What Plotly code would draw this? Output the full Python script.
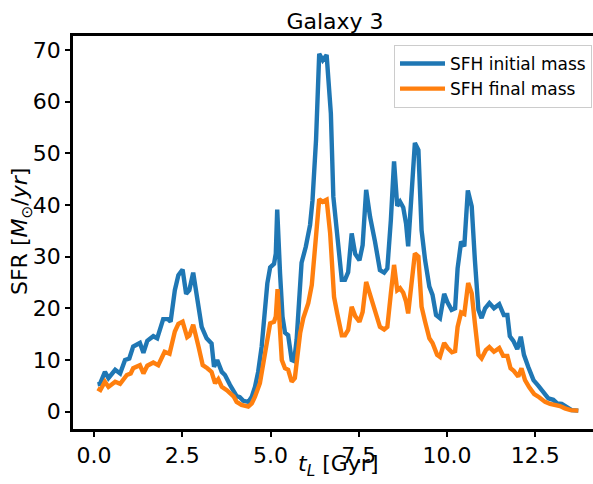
import plotly.graph_objects as go

# Lookback time (Gyr) and SFR (Msun/yr)
t_initial = [0.10, 0.17, 0.31, 0.41, 0.60, 0.74, 0.88, 1.00, 1.11, 1.30, 1.40, 1.51, 1.68, 1.79,
             1.96, 2.10, 2.17, 2.29, 2.39, 2.51, 2.61, 2.70, 2.81, 2.93, 3.05, 3.19, 3.33, 3.40,
             3.49, 3.62, 3.71, 3.85, 4.04, 4.13, 4.23, 4.37, 4.47, 4.56, 4.65, 4.75, 4.84, 4.91,
             4.99, 5.10, 5.15, 5.19, 5.27, 5.34, 5.41, 5.50, 5.60, 5.67, 5.74, 5.81, 5.88, 6.00,
             6.12, 6.19, 6.29, 6.38, 6.48, 6.59, 6.71, 6.78, 6.86, 6.92, 7.02, 7.11, 7.20, 7.30,
             7.40, 7.52, 7.61, 7.71, 7.82, 7.96, 8.10, 8.22, 8.31, 8.41, 8.50, 8.59, 8.67, 8.76,
             8.84, 8.90, 8.98, 9.09, 9.19, 9.28, 9.38, 9.50, 9.59, 9.69, 9.80, 9.92, 10.01, 10.13,
             10.23, 10.30, 10.40, 10.49, 10.59, 10.70, 10.79, 10.89, 10.98, 11.08, 11.20, 11.33,
             11.48, 11.61, 11.71, 11.78, 11.88, 11.99, 12.09, 12.18, 12.30, 12.45, 12.59, 12.73,
             12.87, 13.01, 13.12, 13.25, 13.39, 13.53, 13.72]
sfr_initial = [5.3, 5.4, 7.7, 6.5, 8.1, 7.4, 10.0, 10.3, 12.6, 13.3, 11.4, 13.7, 14.6, 14.2,
               17.9, 17.9, 17.4, 23.5, 26.4, 27.5, 22.8, 23.5, 26.9, 21.6, 16.4, 14.2, 13.2, 8.7,
               10.0, 7.7, 7.1, 5.2, 3.0, 2.8, 2.1, 1.9, 2.9, 4.8, 7.7, 12.6, 20.3, 24.8,
               27.9, 28.6, 30.6, 39.1, 26.8, 18.4, 15.3, 14.8, 10.0, 9.8, 13.9, 22.9, 28.8, 31.9,
               36.1, 40.9, 52.6, 69.2, 68.0, 69.0, 57.7, 41.6, 36.1, 31.9, 25.5, 25.5, 27.0, 34.5,
               30.5, 29.3, 32.2, 42.9, 37.7, 32.9, 27.4, 26.9, 27.7, 37.1, 48.4, 39.8, 40.6, 39.5,
               36.4, 32.0, 40.0, 52.0, 50.6, 35.1, 29.3, 24.2, 22.6, 18.7, 18.1, 22.8, 21.2, 19.7,
               20.0, 27.7, 32.9, 32.0, 42.8, 39.7, 29.3, 19.7, 18.1, 20.0, 21.0, 20.0,
               20.8, 18.7, 18.7, 14.6, 13.7, 12.1, 14.5, 11.0, 8.7, 6.1, 5.0, 3.7,
               2.6, 2.3, 1.6, 1.5, 0.85, 0.3, 0.2]

t_final = [0.10, 0.18, 0.31, 0.41, 0.60, 0.74, 0.93, 1.04, 1.11, 1.30, 1.40, 1.51, 1.68, 1.82,
           2.00, 2.14, 2.29, 2.39, 2.51, 2.64, 2.70, 2.81, 2.96, 3.08, 3.21, 3.33, 3.43, 3.52,
           3.62, 3.77, 3.96, 4.04, 4.18, 4.37, 4.47, 4.56, 4.70, 4.80, 4.89, 4.99, 5.10, 5.15,
           5.20, 5.27, 5.32, 5.41, 5.50, 5.60, 5.69, 5.76, 5.84, 5.93, 6.07, 6.17, 6.26, 6.38,
           6.48, 6.59, 6.69, 6.80, 6.89, 7.02, 7.11, 7.20, 7.30, 7.40, 7.52, 7.61, 7.71, 7.84,
           7.99, 8.10, 8.22, 8.31, 8.41, 8.50, 8.59, 8.67, 8.76, 8.84, 8.90, 8.98, 9.09, 9.19,
           9.28, 9.38, 9.50, 9.59, 9.72, 9.80, 9.92, 10.02, 10.14, 10.23, 10.30, 10.40, 10.49,
           10.60, 10.70, 10.79, 10.89, 10.98, 11.10, 11.20, 11.33, 11.48, 11.59, 11.71, 11.80,
           11.89, 12.02, 12.11, 12.21, 12.33, 12.47, 12.61, 12.78, 12.92, 13.05, 13.20, 13.34,
           13.50, 13.72]
sfr_final = [4.5, 4.2, 5.8, 4.8, 5.8, 5.4, 7.1, 7.4, 8.4, 9.0, 7.4, 8.9, 9.5, 9.0,
             11.6, 11.2, 15.5, 17.0, 17.4, 14.4, 14.7, 16.8, 12.6, 9.0, 8.4, 7.7, 5.5, 6.3,
             4.8, 4.1, 2.9, 1.9, 1.3, 1.0, 1.6, 2.9, 5.5, 9.4, 13.9, 17.1, 17.4, 18.4,
             23.7, 15.2, 10.0, 8.4, 8.1, 5.8, 6.5, 10.6, 15.2, 18.1, 21.0, 24.5, 31.9, 41.1,
             40.6, 41.0, 34.5, 22.2, 19.0, 14.8, 14.8, 15.8, 20.3, 18.5, 17.4, 19.3, 25.1, 22.2,
             19.3, 16.4, 15.9, 16.4, 22.9, 28.4, 23.5, 23.9, 23.0, 21.3, 19.0, 23.5, 30.6, 30.0,
             20.3, 17.4, 14.2, 13.3, 11.0, 10.6, 13.3, 12.3, 11.5, 11.7, 16.4, 19.2, 18.9,
             24.9, 22.9, 17.1, 11.0, 10.3, 11.9, 12.5, 11.6, 12.3, 10.8, 10.8, 8.4,
             7.9, 6.8, 8.4, 6.1, 4.7, 3.4, 2.8, 1.9, 1.5, 1.3, 1.1, 0.65,
             0.3, 0.2]

series_names = ["SFH initial mass", "SFH final mass"]
x_ticks = [0, 2.5, 5, 7.5, 10, 12.5]
y_ticks = [0, 10, 20, 30, 40, 50, 60, 70]

FONT = "DejaVu Sans"

fig = go.Figure()
fig.add_trace(go.Scatter(x=t_initial, y=sfr_initial, mode="lines", name=series_names[0],
                         line=dict(color="#1f77b4", width=4.4)))
fig.add_trace(go.Scatter(x=t_final, y=sfr_final, mode="lines", name=series_names[1],
                         line=dict(color="#ff7f0e", width=4.4)))

L, R, T, B = 73, 0, 36, 55
W, H = 593, 484
pw, ph = W - L - R, H - T - B

def px_x(px):
    return (px - L) / pw

def px_y(py):
    return (H - B - py) / ph

fig.update_layout(
    width=W, height=H,
    margin=dict(l=L, r=R, t=T, b=B, pad=0),
    paper_bgcolor="white", plot_bgcolor="white",
    font=dict(family=FONT, color="black"),
    showlegend=True,
    legend=dict(x=px_x(592), y=px_y(45), xanchor="right", yanchor="top",
                bgcolor="white", bordercolor="#cccccc", borderwidth=1,
                font=dict(size=17, family=FONT), itemwidth=45),
    title=dict(text="Galaxy 3", x=335 / W, xanchor="center", y=1 - 21 / H, yanchor="middle",
               font=dict(size=22, family=FONT)),
    annotations=[
        dict(text="<i>t</i><sub><i>L</i></sub> [Gyr]", xref="paper", yref="paper",
             x=px_x(338), y=px_y(465), xanchor="center", yanchor="middle",
             showarrow=False, font=dict(size=22, family=FONT)),
        dict(text="SFR [<i>M</i><sub>⊙</sub>/<i>yr</i>]", xref="paper", yref="paper",
             x=px_x(21), y=px_y(232), xanchor="center", yanchor="middle", textangle=-90,
             showarrow=False, font=dict(size=22, family=FONT)),
    ],
)

fig.update_xaxes(range=[(73 - 94) / 35.3, (593 - 94) / 35.3], tickvals=x_ticks,
                 ticktext=[f"{v:.1f}" for v in x_ticks],
                 showgrid=False, zeroline=False, showline=True, linecolor="black", linewidth=2.5,
                 mirror=True, ticks="outside", ticklen=5, tickwidth=2, tickcolor="black",
                 tickfont=dict(size=22, family=FONT))
fig.update_yaxes(range=[(411.7 - 429) / 5.17, (411.7 - 36) / 5.17], tickvals=y_ticks,
                 showgrid=False, zeroline=False, showline=True, linecolor="black", linewidth=2.5,
                 mirror=False, ticks="outside", ticklen=5, tickwidth=2, tickcolor="black",
                 tickfont=dict(size=22, family=FONT))

fig.write_html("out.html")
